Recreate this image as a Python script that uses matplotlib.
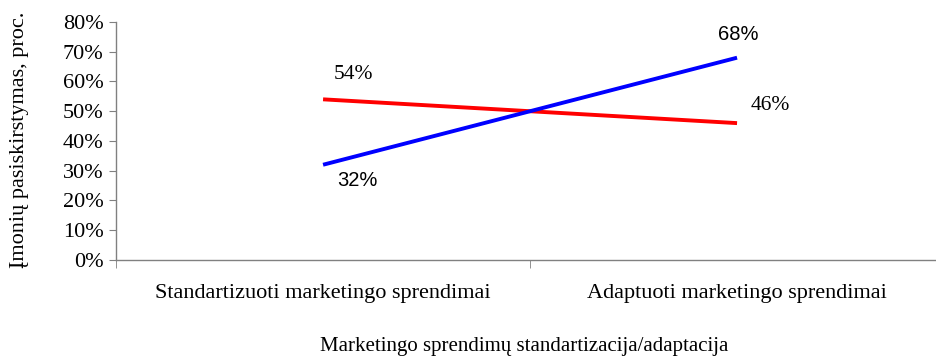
import matplotlib.pyplot as plt
from matplotlib.ticker import FixedLocator, PercentFormatter

# --- Duomenys ---
kategorijos = ["Standartizuoti marketingo sprendimai", "Adaptuoti marketingo sprendimai"]
raudona = [54, 46]
melyna = [32, 68]
raudona_zymes = ["54%", "46%"]
melyna_zymes = ["32%", "68%"]

serif = ["Liberation Serif", "DejaVu Serif"]
sans = ["Liberation Sans", "DejaVu Sans"]

fig = plt.figure(figsize=(9.36, 3.58), dpi=100)
ax = fig.add_axes([0.124, 0.274, 0.8846, 0.6645])

x = list(range(len(kategorijos)))
ax.plot(x, raudona, color="#ff0000", lw=2.8, solid_capstyle="butt")
ax.plot(x, melyna, color="#0000ff", lw=2.8, solid_capstyle="butt")

# reikšmių žymės
ax.annotate(raudona_zymes[0], (x[0], raudona[0]), xytext=(22, 18), textcoords="offset points",
            ha="center", va="center", fontsize=15.5, family=serif)
ax.annotate(raudona_zymes[1], (x[1], raudona[1]), xytext=(24, 13), textcoords="offset points",
            ha="center", va="center", fontsize=15.5, family=serif)
ax.annotate(melyna_zymes[0], (x[0], melyna[0]), xytext=(25, -11), textcoords="offset points",
            ha="center", va="center", fontsize=14.5, family=sans)
ax.annotate(melyna_zymes[1], (x[1], melyna[1]), xytext=(1, 17), textcoords="offset points",
            ha="center", va="center", fontsize=14.5, family=sans)

ax.set_xlim(-0.5, 1.5)
ax.set_ylim(0, 80)
ax.yaxis.set_major_locator(FixedLocator(range(0, 81, 10)))
ax.yaxis.set_major_formatter(PercentFormatter(decimals=0))

ax.set_xticks(x)
ax.set_xticklabels(kategorijos, fontsize=16, family=serif)
ax.tick_params(axis="x", which="major", length=0, pad=17)
ax.xaxis.set_minor_locator(FixedLocator([-0.5, 0.5, 1.5]))
ax.tick_params(axis="x", which="minor", length=6, color="#808080", direction="out")
ax.tick_params(axis="y", length=5, color="#808080", pad=4)
for lbl in ax.get_yticklabels():
    lbl.set_family(serif)
    lbl.set_fontsize(16)

for s in ["top", "right"]:
    ax.spines[s].set_visible(False)
for s in ["left", "bottom"]:
    ax.spines[s].set_color("#808080")
    ax.spines[s].set_linewidth(1.0)

fig.text(20 / 936, 1 - 140 / 358, "Įmonių pasiskirstymas, proc.", rotation=90,
         ha="center", va="center", fontsize=16, family=serif)
fig.text(0.56, 0.031, "Marketingo sprendimų standartizacija/adaptacija",
         ha="center", va="center", fontsize=15, family=serif)

fig.savefig("out.png", dpi=100)
